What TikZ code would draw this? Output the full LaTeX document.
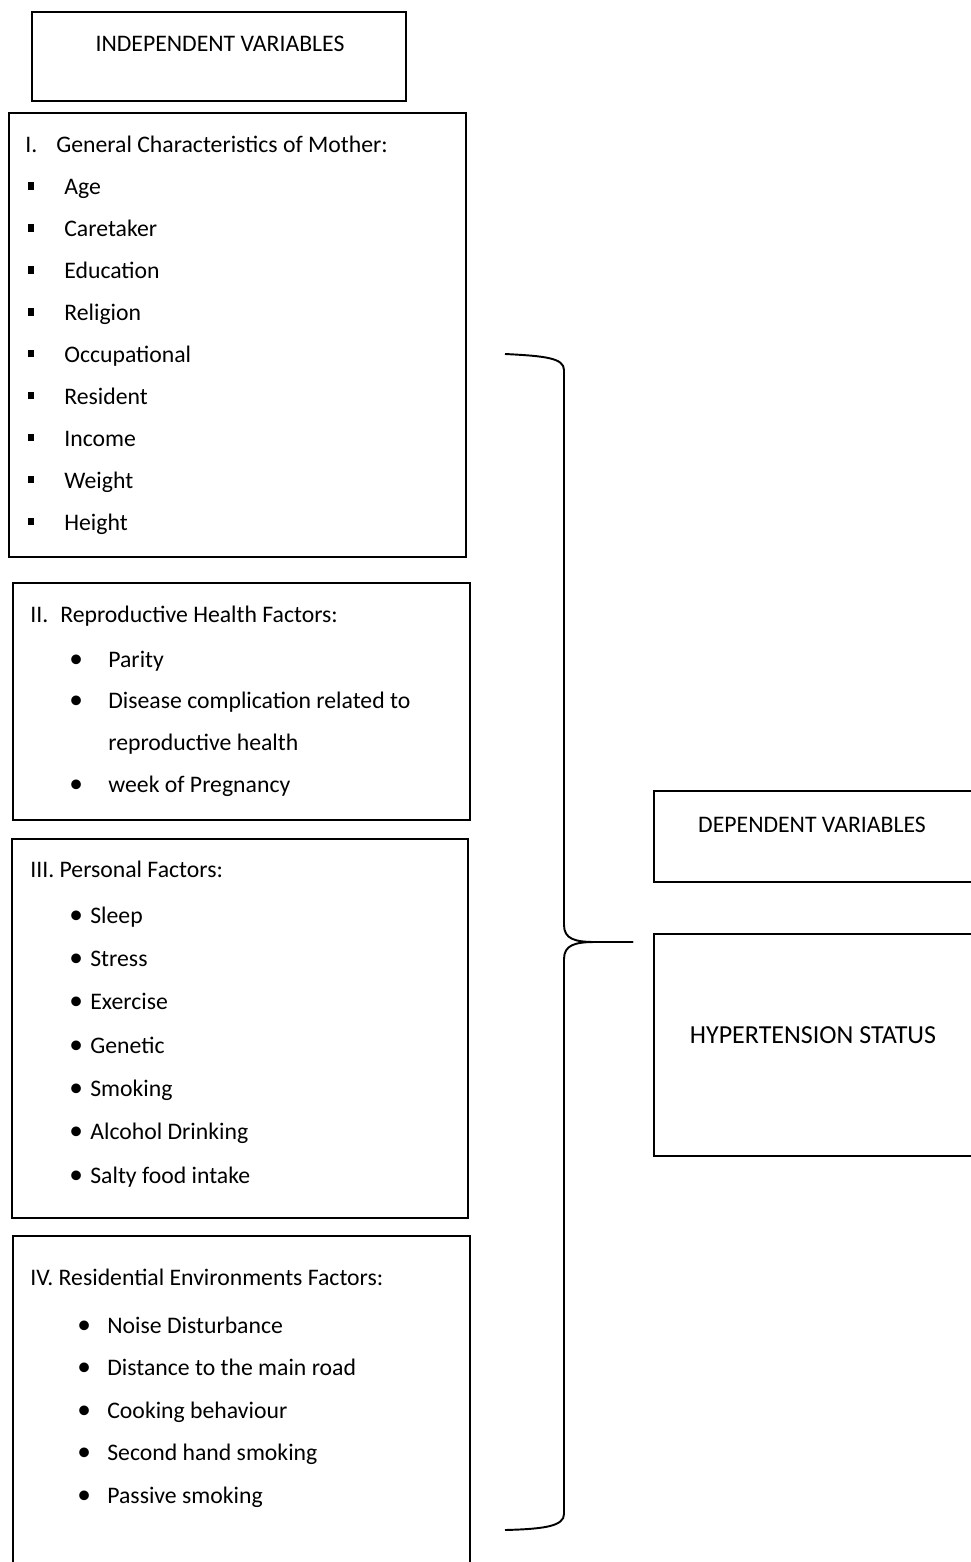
\documentclass[tikz,border=0pt]{standalone}
\usepackage{fontspec}
\setmainfont{Carlito}
\newcommand{\sqb}{\rule[0.1cm]{0.12cm}{0.15cm}}
\newcommand{\rdb}{\scalebox{1.15}{\textbullet}}

\begin{document}
\begin{tikzpicture}[
    box/.style={draw, line width=1.1pt, inner sep=0pt},
    txt/.style={anchor=base west, inner sep=0pt, font=\fontsize{13.5}{16}\selectfont},
    title/.style={anchor=base, inner sep=0pt, font=\fontsize{13.5}{16}\selectfont}]
    \useasboundingbox (0,0) rectangle (19.4,-31.24);
    % boxes
    \node[box, minimum width=7.48cm, minimum height=1.78cm] (indep) at (4.38,-1.13) {};
    \node[box, minimum width=9.14cm, minimum height=8.88cm] (gen) at (4.75,-6.70) {};
    \node[box, minimum width=9.14cm, minimum height=4.74cm] (repro) at (4.83,-14.03) {};
    \node[box, minimum width=9.12cm, minimum height=7.58cm] (pers) at (4.80,-20.57) {};
    \node[box, minimum width=9.14cm, minimum height=7.28cm] (resid) at (4.83,-28.36) {};
    \node[box, minimum width=7.12cm, minimum height=1.82cm] (dep) at (16.64,-16.73) {};
    \node[box, minimum width=7.12cm, minimum height=4.44cm] (hyp) at (16.64,-20.90) {};

    \node[title] (indepl) at (4.40,-1.04) {INDEPENDENT VARIABLES};
    \node[title] (depl) at (16.24,-16.64) {DEPENDENT VARIABLES};
    \node[title, font=\fontsize{14.8}{17}\selectfont] (hypl) at (16.26,-20.86) {HYPERTENSION STATUS};

    % I
    \node[txt] (genh) at (0.50,-3.06) {\makebox[0.62cm][l]{I.}General Characteristics of Mother:};
    \foreach \t [count=\i] in {Age,Caretaker,Education,Religion,Occupational,Resident,Income,Weight,Height}
        \node[txt] (gen\i) at (0.56,{-3.90-0.8375*(\i-1)}) {\makebox[0.72cm][l]{\sqb}\t};

    % II
    \node[txt] (reproh) at (0.60,-12.44) {\makebox[0.60cm][l]{II.}Reproductive Health Factors:};
    \node[txt] (repro1) at (1.38,-13.34) {\makebox[0.78cm][l]{\rdb}Parity};
    \node[txt] (repro2) at (1.38,-14.16) {\makebox[0.78cm][l]{\rdb}Disease complication related to};
    \node[txt] (repro2b) at (2.16,-15.00) {reproductive health};
    \node[txt] (repro3) at (1.38,-15.84) {\makebox[0.78cm][l]{\rdb}week of Pregnancy};

    % III
    \node[txt] (persh) at (0.60,-17.54) {III. Personal Factors:};
    \foreach \t [count=\i] in {Sleep,Stress,Exercise,Genetic,Smoking,Alcohol Drinking,Salty food intake}
        \node[txt] (pers\i) at (1.38,{-18.46-0.867*(\i-1)}) {\makebox[0.42cm][l]{\rdb}\t};

    % IV
    \node[txt] (residh) at (0.60,-25.70) {IV. Residential Environments Factors:};
    \foreach \t [count=\i] in {Noise Disturbance,Distance to the main road,Cooking behaviour,Second hand smoking,Passive smoking}
        \node[txt] (resid\i) at (1.54,{-26.66-0.85*(\i-1)}) {\makebox[0.60cm][l]{\rdb}\t};

    % brace
    \coordinate (bt) at (10.10,-7.08);
    \coordinate (bm) at (12.66,-18.84);
    \coordinate (bb) at (10.10,-30.60);
    \draw[line width=1.1pt] (bt) .. controls (10.9,-7.12) and (11.28,-7.16) .. (11.28,-7.40)
        -- (11.28,-18.50) .. controls (11.28,-18.78) and (11.5,-18.84) .. (11.9,-18.84) -- (bm);
    \draw[line width=1.1pt] (bm) -- (11.9,-18.84) .. controls (11.5,-18.84) and (11.28,-18.90) .. (11.28,-19.18)
        -- (11.28,-30.28) .. controls (11.28,-30.52) and (10.9,-30.58) .. (bb);
\end{tikzpicture}
\end{document}
